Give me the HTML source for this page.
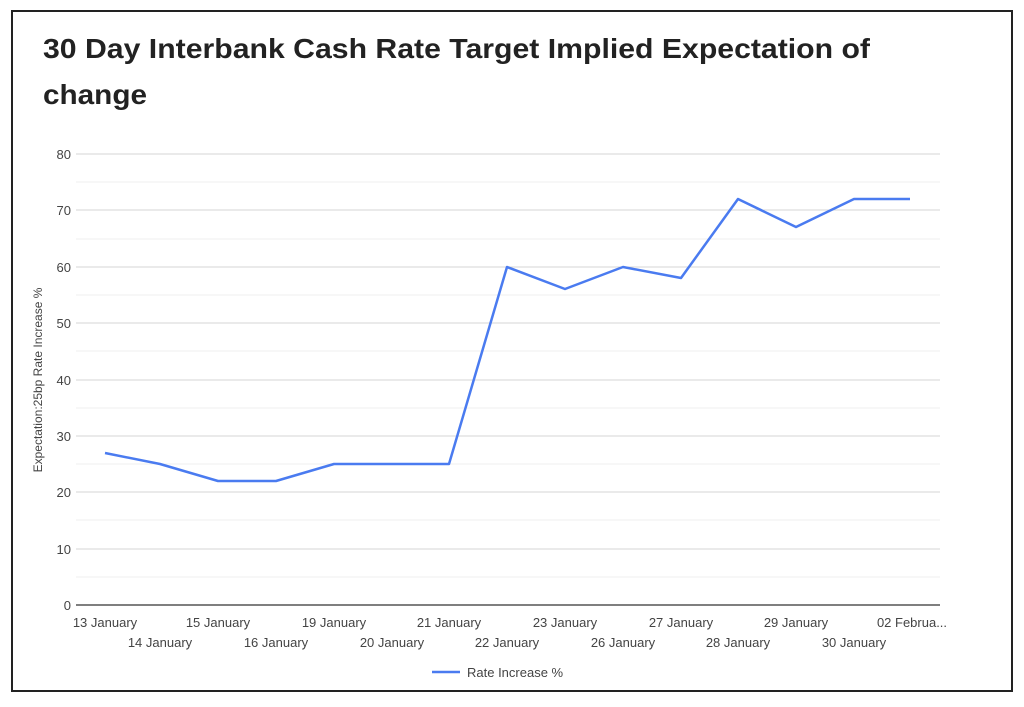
<!DOCTYPE html>
<html><head><meta charset="utf-8"><style>
body{margin:0;background:#fff;width:1024px;height:707px;overflow:hidden;font-family:"Liberation Sans",sans-serif}
.frame{position:absolute;left:11px;top:10px;width:998px;height:678px;border:2px solid #222;}
</style></head><body>
<div class="frame"></div>
<svg width="1024" height="707" style="position:absolute;left:0;top:0" font-family="Liberation Sans, sans-serif">
<text x="43" y="58" font-size="28" font-weight="bold" fill="#222" textLength="827" lengthAdjust="spacingAndGlyphs">30 Day Interbank Cash Rate Target Implied Expectation of</text>
<text x="43" y="104" font-size="28" font-weight="bold" fill="#222" textLength="104" lengthAdjust="spacingAndGlyphs">change</text>
<g stroke="#efefef" stroke-width="1">
<line x1="76" x2="940" y1="182" y2="182"/><line x1="76" x2="940" y1="239" y2="239"/><line x1="76" x2="940" y1="295" y2="295"/><line x1="76" x2="940" y1="351" y2="351"/><line x1="76" x2="940" y1="408" y2="408"/><line x1="76" x2="940" y1="464" y2="464"/><line x1="76" x2="940" y1="520" y2="520"/><line x1="76" x2="940" y1="577" y2="577"/>
</g>
<g stroke="#d6d6d6" stroke-width="1">
<line x1="76" x2="940" y1="154" y2="154"/><line x1="76" x2="940" y1="210" y2="210"/><line x1="76" x2="940" y1="267" y2="267"/><line x1="76" x2="940" y1="323" y2="323"/><line x1="76" x2="940" y1="380" y2="380"/><line x1="76" x2="940" y1="436" y2="436"/><line x1="76" x2="940" y1="492" y2="492"/><line x1="76" x2="940" y1="549" y2="549"/>
</g>
<line x1="76" x2="940" y1="605" y2="605" stroke="#555" stroke-width="1.5"/>
<g font-size="13" fill="#444" text-anchor="end">
<text x="71" y="159">80</text><text x="71" y="215">70</text><text x="71" y="272">60</text><text x="71" y="328">50</text><text x="71" y="385">40</text><text x="71" y="441">30</text><text x="71" y="497">20</text><text x="71" y="554">10</text><text x="71" y="610">0</text>
</g>
<text transform="translate(42,380) rotate(-90)" font-size="12" fill="#444" text-anchor="middle">Expectation:25bp Rate Increase %</text>
<polyline fill="none" stroke="#4a7bf0" stroke-width="2.5" stroke-linejoin="round" points="105,453 160,464 218,481 276,481 334,464 392,464 449,464 507,267 565,289 623,267 681,278 738,199 796,227 854,199 910,199"/>
<g font-size="13" fill="#444" text-anchor="middle">
<text x="105" y="627">13 January</text><text x="218" y="627">15 January</text><text x="334" y="627">19 January</text><text x="449" y="627">21 January</text><text x="565" y="627">23 January</text><text x="681" y="627">27 January</text><text x="796" y="627">29 January</text><text x="912" y="627">02 Februa...</text>
<text x="160" y="647">14 January</text><text x="276" y="647">16 January</text><text x="392" y="647">20 January</text><text x="507" y="647">22 January</text><text x="623" y="647">26 January</text><text x="738" y="647">28 January</text><text x="854" y="647">30 January</text>
</g>
<line x1="432" x2="460" y1="672" y2="672" stroke="#4a7bf0" stroke-width="2.5"/>
<text x="467" y="677" font-size="13" fill="#444">Rate Increase %</text>
</svg>
</body></html>
